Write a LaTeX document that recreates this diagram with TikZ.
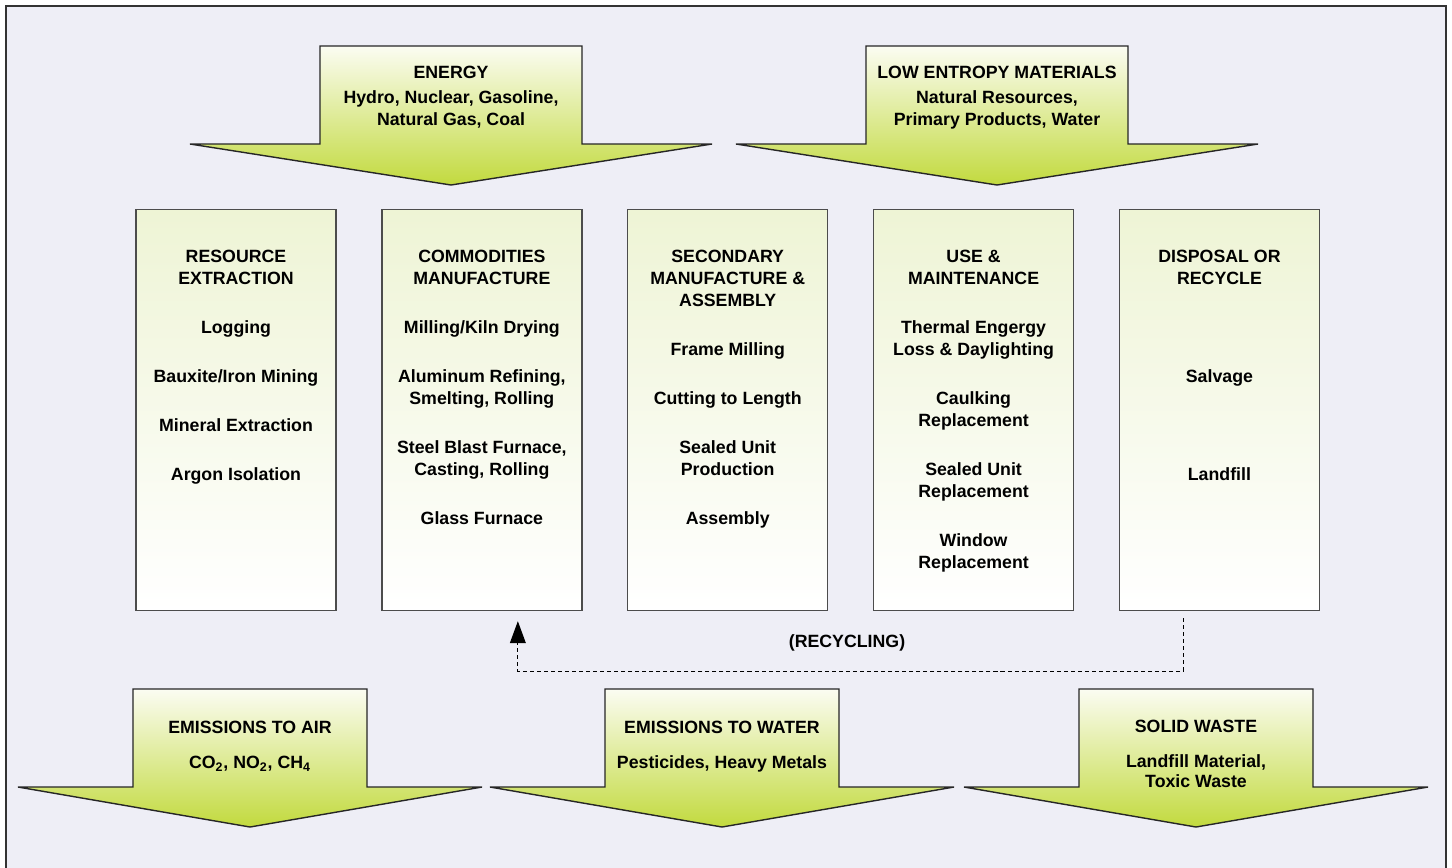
\documentclass[tikz,border=0pt]{standalone}
\usepackage{fontspec}
\setmainfont{Liberation Sans}
\usetikzlibrary{positioning,calc,arrows.meta}

\definecolor{framebg}{HTML}{EEEEF6}
\definecolor{leaf}{HTML}{C2DA3E}
\definecolor{paleleaf}{HTML}{FBFCF2}
\definecolor{boxtop}{HTML}{EEF4D5}

\newcommand\flowarrow[6]{%
  \draw[flow] (#1-#3,#2) -- (#1+#3,#2) -- (#1+#3,#4) -- (#1+#5,#4) -- (#1,#6)
    -- (#1-#5,#4) -- (#1-#3,#4) -- cycle;}

\begin{document}
\begin{tikzpicture}[x=0.02cm,y=-0.02cm,
            lbl/.style={font=\bfseries\fontsize{10.1}{12.5}\selectfont, align=center, inner sep=0pt},
            stage/.style={draw=black!70, line width=0.8pt, top color=boxtop, bottom color=white,
                minimum width=4cm, minimum height=8.02cm, inner sep=0pt},
            flow/.style={draw=black!85, line width=0.8pt, top color=paleleaf, bottom color=leaf},
            recline/.style={line width=0.6pt, dash pattern=on 2.3pt off 1.7pt,
                -{Triangle[length=12.5pt,width=9pt]}}]
            \useasboundingbox (0,0) rectangle (1452,867);
            \draw[line width=1.1pt, draw=black!80, fill=framebg] (6,6) rectangle (1446,869);

            \flowarrow{451}{46}{131}{144}{261}{185}
            \flowarrow{997}{46}{131}{144}{261}{185}
            \flowarrow{250}{689}{117}{787}{232}{827}
            \flowarrow{722}{689}{117}{787}{232}{827}
            \flowarrow{1196}{689}{117}{787}{232}{827}

            \node[lbl, anchor=north] (energy) at (451,66) {ENERGY\\[1.7pt]Hydro, Nuclear, Gasoline,\\Natural Gas, Coal};
            \node[lbl, anchor=north] (lowent) at (997,66) {LOW ENTROPY MATERIALS\\[1.7pt]Natural Resources,\\Primary Products, Water};
            \node[lbl, anchor=north] (air) at (250,721) {EMISSIONS TO AIR\\[7.4pt]CO\textsubscript{2}, NO\textsubscript{2}, CH\textsubscript{4}};
            \node[lbl, anchor=north] (water) at (722,721) {EMISSIONS TO WATER\\[7.4pt]Pesticides, Heavy Metals};
            \node[lbl, anchor=north] (waste) at (1196,720) {SOLID WASTE\\[7.4pt]Landfill Material,\\[-1.5pt]Toxic Waste};

            \node[stage] (s1) at (236,410) {};
            \node[stage, right=0.89cm of s1] (s2) {};
            \node[stage, right=0.89cm of s2] (s3) {};
            \node[stage, right=0.89cm of s3] (s4) {};
            \node[stage, right=0.89cm of s4] (s5) {};

            \node[lbl, anchor=north] (t1) at ($(s1.north)+(0,41)$) {RESOURCE\\EXTRACTION\\[15.4pt]Logging\\[15.4pt]Bauxite/Iron Mining\\[15.4pt]Mineral Extraction\\[15.4pt]Argon Isolation};
            \node[lbl, anchor=north] (t2) at ($(s2.north)+(0,41)$) {COMMODITIES\\MANUFACTURE\\[15.4pt]Milling/Kiln Drying\\[15.4pt]Aluminum Refining,\\Smelting, Rolling\\[15.4pt]Steel Blast Furnace,\\Casting, Rolling\\[15.4pt]Glass Furnace};
            \node[lbl, anchor=north] (t3) at ($(s3.north)+(0,41)$) {SECONDARY\\MANUFACTURE \&\\ASSEMBLY\\[15.4pt]Frame Milling\\[15.4pt]Cutting to Length\\[15.4pt]Sealed Unit\\Production\\[15.4pt]Assembly};
            \node[lbl, anchor=north] (t4) at ($(s4.north)+(0,41)$) {USE \&\\MAINTENANCE\\[15.4pt]Thermal Engergy\\Loss \& Daylighting\\[15.4pt]Caulking\\Replacement\\[15.4pt]Sealed Unit\\Replacement\\[15.4pt]Window\\Replacement};
            \node[lbl, anchor=north] (t5) at ($(s5.north)+(0,41)$) {DISPOSAL OR\\RECYCLE\\[43.2pt]Salvage\\[43.2pt]Landfill};

            \coordinate (rstart) at ($(s5.south)+(-36,7)$);
            \coordinate (rend) at ($(s2.south)+(36,10)$);
            \draw[recline] (rstart) -- ++(0,53) -| (rend);
            \node[lbl] (recyc) at (847,643) {(RECYCLING)};
        \end{tikzpicture}
\end{document}
